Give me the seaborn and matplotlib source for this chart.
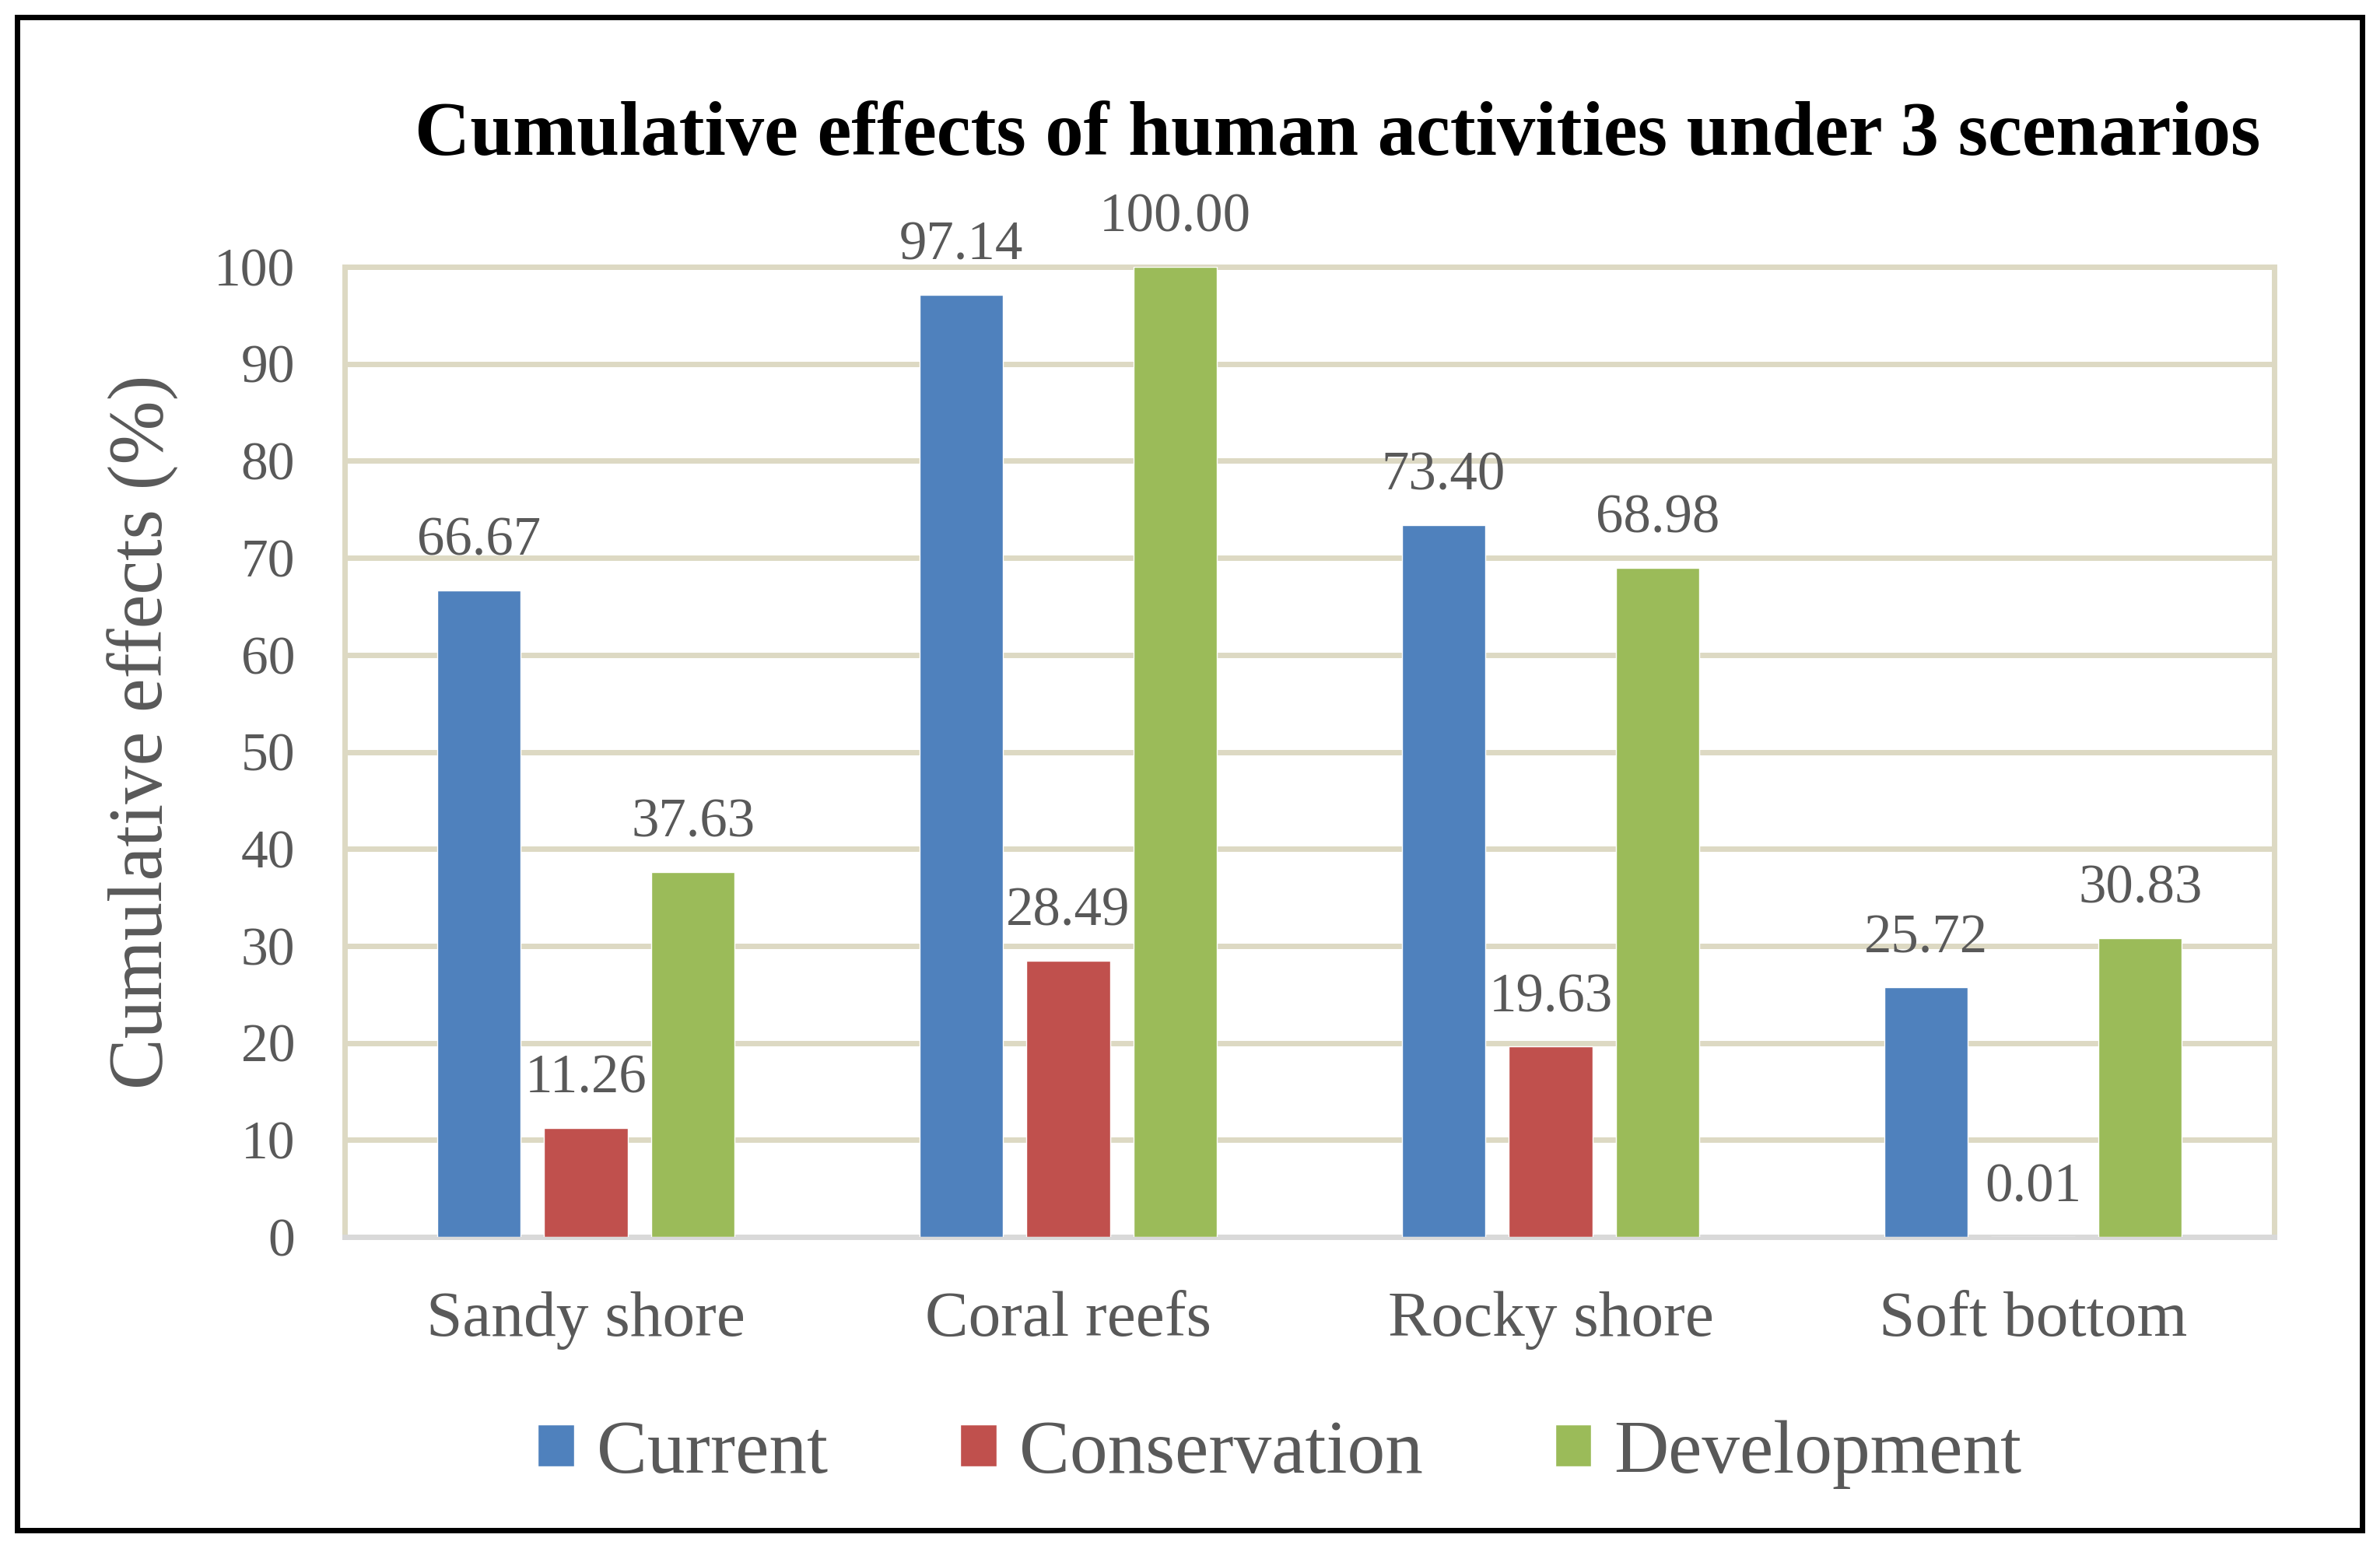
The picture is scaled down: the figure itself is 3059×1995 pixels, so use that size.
import numpy as np
import pandas as pd
import seaborn as sns
import matplotlib
matplotlib.use("Agg")
import matplotlib.pyplot as plt
from matplotlib.patches import Rectangle

# Chart data
habitats = ["Sandy shore", "Coral reefs", "Rocky shore", "Soft bottom"]
scenarios = ["Current", "Conservation", "Development"]
current = [66.67, 97.14, 73.40, 25.72]
conservation = [11.26, 28.49, 19.63, 0.01]
development = [37.63, 100.00, 68.98, 30.83]
y_ticks = list(range(0, 101, 10))

colors = ["#4F81BD", "#C0504D", "#9BBB59"]
text_grey = "#595959"
grid_beige = "#DDD9C3"

df = pd.DataFrame({
    "habitat": habitats * 3,
    "scenario": np.repeat(scenarios, len(habitats)),
    "value": current + conservation + development,
})

sns.set_theme(style="white")
plt.rcParams["font.family"] = ["Liberation Serif", "DejaVu Serif"]

W, H = 3059, 1995
fig = plt.figure(figsize=(W / 100, H / 100), dpi=100)
ax = fig.add_axes([443 / W, 1 - 1590 / H, (2923 - 443) / W, (1590 - 343) / H])

sns.barplot(data=df, x="habitat", y="value", hue="scenario", order=habitats,
            hue_order=scenarios, palette=colors, saturation=1, errorbar=None,
            width=0.666, gap=0.22, ax=ax, zorder=3)

for cont in ax.containers:
    ax.bar_label(cont, fmt="%.2f", padding=21.6, fontsize=51, color=text_grey)

ax.set_ylim(0, 100)
ax.set_xlim(-0.5, 3.5)
ax.set_yticks(y_ticks)
ax.yaxis.grid(True, color=grid_beige, linewidth=5)
ax.set_axisbelow(True)
ax.tick_params(axis="both", length=0, colors=text_grey)
ax.tick_params(axis="x", labelsize=60, pad=50)
ax.tick_params(axis="y", labelsize=50, pad=46)
ax.set_xlabel("")
ax.set_ylabel("Cumulative effects (%)", fontsize=71, color=text_grey)
ax.yaxis.set_label_coords(-0.0859, 0.521)

for side in ["left", "right", "top"]:
    ax.spines[side].set_color(grid_beige)
    ax.spines[side].set_linewidth(5)
    ax.spines[side].set_zorder(1)
ax.spines["bottom"].set_color("#D9D9D9")
ax.spines["bottom"].set_linewidth(5)

handles, labels = ax.get_legend_handles_labels()
ax.get_legend().remove()
fig.legend(handles, labels, loc="center", bbox_to_anchor=(0.5377, 0.063),
           ncol=3, frameon=False, fontsize=70, handlelength=0.48,
           handleheight=0.48, handletextpad=0.3, columnspacing=1.75,
           labelcolor=text_grey)

fig.text(0.562, 1 - 199 / H, "Cumulative effects of human activities under 3 scenarios",
         ha="center", va="baseline", fontsize=71, fontweight="bold", color="black")

# outer frame
fig.patches.append(Rectangle((22 / W, 1 - 1967 / H), (3036 - 22) / W, (1967 - 22) / H,
                             transform=fig.transFigure, fill=False,
                             edgecolor="black", linewidth=5))

fig.savefig("out.png", dpi=100)
